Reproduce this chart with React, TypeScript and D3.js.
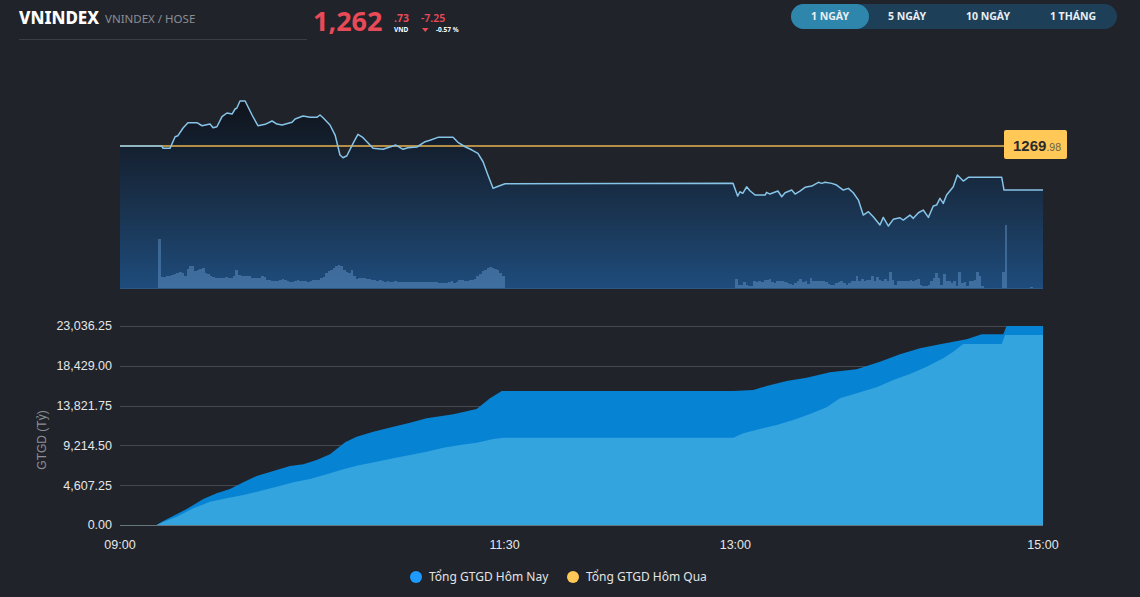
import * as d3 from "d3";
import { useEffect, useRef } from "react";

const WIDTH = 1140;
const HEIGHT = 597;

const SYMBOL = "VNINDEX";
const EXCHANGE = "VNINDEX / HOSE";
const REF_PRICE = 1269.98;
const LAST_PRICE = 1262.73;
const CHANGE = -7.25;
const CHANGE_PCT = -0.57;

const tabs = ["1 NGÀY", "5 NGÀY", "10 NGÀY", "1 THÁNG"];

// minutes since 09:00
const priceMinutes = [
  0, 16.3, 16.8, 19.5, 21.5, 22.6, 24.6, 26.5, 30.0, 32.0, 35.1, 36.3, 37.8, 39.8, 41.7, 43.7, 44.9, 45.6,
  46.8, 48.8, 51.5, 53.8, 56.6, 59.3, 61.2, 63.2, 67.1, 68.3, 71.4, 74.1, 76.8, 78.0, 79.2, 81.9, 83.9,
  85.8, 87.0, 88.5, 90.9, 92.8, 94.8, 97.5, 98.7, 102.6, 105.3, 107.6, 110.4, 112.3, 115.8, 119.0, 120.9,
  124.0, 129.9, 131.8, 134.6, 137.3, 139.6, 141.6, 143.5, 145.5, 147.0, 150.2, 239.1, 240.9, 241.8,
  242.9, 244.4, 245.7, 247.7, 251.6, 252.2, 253.5, 256.6, 258.1, 259.4, 262.0, 263.3, 265.2, 267.2,
  269.8, 272.4, 273.7, 275.0, 277.6, 279.5, 282.1, 284.1, 286.0, 288.0, 289.9, 291.9, 293.8, 296.4,
  297.7, 299.7, 301.6, 304.2, 305.5, 308.1, 309.4, 311.4, 313.3, 315.3, 317.2, 318.5, 319.8, 321.1,
  322.4, 325.0, 326.6, 328.9, 330.9, 343.9, 344.8, 360,
];
const priceValues = [
  1269.98, 1269.98, 1269.6, 1269.6, 1271.51, 1271.68, 1272.95, 1273.82, 1273.82, 1273.32, 1273.6,
  1272.99, 1273.16, 1274.81, 1275.42, 1275.25, 1276.08, 1276.24, 1277.39, 1277.39, 1275.09, 1273.32,
  1273.55, 1274.1, 1273.6, 1273.44, 1273.88, 1274.43, 1274.92, 1274.71, 1274.71, 1275.09, 1274.64,
  1273.44, 1271.79, 1268.5, 1268.05, 1268.38, 1270.42, 1271.91, 1271.35, 1270.14, 1269.6, 1269.44,
  1269.82, 1270.14, 1269.44, 1269.7, 1269.82, 1270.69, 1270.92, 1271.41, 1271.41, 1270.59, 1269.86,
  1269.32, 1268.78, 1267.39, 1265.2, 1263.01, 1263.27, 1263.77, 1263.83, 1261.74, 1262.45, 1262.19,
  1263.27, 1262.62, 1261.91, 1261.91, 1262.35, 1262.07, 1262.57, 1261.63, 1262.29, 1262.73, 1262.07,
  1262.57, 1263.18, 1263.39, 1264.0, 1263.83, 1264.0, 1263.83, 1263.55, 1262.73, 1263.01, 1262.29,
  1261.08, 1258.61, 1259.16, 1258.33, 1256.97, 1258.23, 1256.8, 1257.91, 1258.17, 1257.79, 1258.61,
  1258.07, 1258.99, 1259.44, 1258.23, 1260.1, 1260.26, 1261.36, 1260.54, 1261.91, 1263.27, 1265.2,
  1264.21, 1264.82, 1264.82, 1262.73, 1262.73,
];

// 1-minute volume bars (relative units)
const volMorningStart = 15;
const volMorning = [
  49, 11, 10.7, 11.7, 12.3, 13.3, 14, 15.3, 15.7, 15,
  12.3, 19, 22.3, 22.3, 16.7, 17.7, 19.3, 20, 15, 14,
  11.7, 10.7, 10.3, 10.3, 10, 10, 10.7, 10, 10, 11.7,
  17.7, 12.7, 11.7, 12.3, 12.3, 11.7, 10.3, 10.3, 10.3, 10,
  12.3, 11, 8.3, 7.7, 7.3, 7.3, 6.7, 8.3, 9, 8.3,
  6.7, 5.7, 6, 6.7, 7.7, 7, 7.3, 6.7, 6, 6.7,
  7.7, 8.3, 8.3, 10, 11, 15, 16.7, 18.3, 20, 21.7,
  22.7, 21.7, 18.3, 15.7, 15, 17.7, 11.7, 9, 10, 9.7,
  10.3, 9, 9.3, 8.3, 7.7, 7.3, 7.7, 6.7, 6.3, 6.7,
  6.3, 6.3, 6.7, 6, 5.7, 6.3, 5.7, 6.3, 5.7, 6,
  5.7, 6, 6, 6.3, 5.7, 6, 6.3, 6, 5.7, 5,
  5, 5, 5, 5.7, 6.7, 5, 5.7, 7.7, 7.7, 7.3,
  7.3, 7.7, 8.3, 9, 11.7, 14.3, 16.7, 18.3, 20, 21,
  20, 19, 18.3, 15, 11.7,
];
const volAfternoonStart = 240;
const volAfternoon = [
  9, 3, 3, 5.7, 3.3, 1.7, 1.7, 7.3, 6.3, 6.7,
  5.7, 7.7, 8.3, 9, 5.7, 5, 6.7, 7.3, 7.3, 6.3,
  5, 4.3, 3.3, 5, 6.7, 9, 6, 7.3, 4.3, 10, 6.7,
  6.7, 7.3, 7.3, 6.7, 5.7, 4.3, 3.3, 3.3, 5, 6,
  6.7, 5, 3.3, 5, 6.7, 7.3, 12.3, 6.7, 9, 7.3, 8.3,
  8.3, 12.3, 6.7, 11, 8.3, 6.7, 9, 6.7, 16, 8.3,
  3.3, 7.3, 7.3, 7.3, 7.3, 7.3, 8.3, 7.3, 8.3, 9,
  3.3, 1.7, 1.7, 3.3, 7.3, 10, 15, 10, 2.7, 14, 6.7,
  6.7, 5, 6.7, 2.3, 16, 5, 5.7, 2.3, 7.3, 7.3,
  8.3, 16, 11.7, 1.7, 0.4, 0.4, 0.4, 0.4, 0.4, 0.4,
  0.4, 16, 62.7, 0, 0, 0, 0, 0, 0, 0, 0, 0, 1,
];

// cumulative GTGD (tỷ đồng)
const gtgdTodayMinutes = [
  0, 14.3, 16.9, 26.0, 32.5, 37.7, 42.9, 48.1, 53.3, 58.5, 66.3, 71.5, 76.7, 81.9, 87.8, 92.3, 98.8,
  106.6, 113.1, 119.6, 130.0, 139.1, 144.3, 148.9, 239.2, 247.0, 252.2, 260.0, 267.8, 276.9, 287.3,
  296.4, 304.2, 312.0, 319.8, 330.2, 336.1, 344.5, 345.8, 360,
];
const gtgdTodayValues = [
  0, 0, 463, 1852, 3010, 3670, 4167, 4943, 5672, 6135, 6830, 7027, 7524, 8184, 9573, 10222, 10801,
  11379, 11842, 12352, 12815, 13428, 14667, 15512, 15512, 15628, 16091, 16669, 17051, 17677, 18024,
  18904, 19760, 20455, 20918, 21497, 22076, 22076, 23036.25, 23036.25,
];
const gtgdPrevMinutes = [
  0, 14.3, 15.6, 22.1, 28.6, 35.1, 41.6, 48.1, 54.6, 61.1, 67.6, 74.1, 80.6, 87.1, 93.6, 100.1, 106.6,
  113.1, 119.6, 126.1, 132.6, 139.1, 145.6, 149.5, 239.2, 243.1, 249.6, 256.1, 262.6, 269.1, 275.6,
  280.8, 287.3, 295.1, 301.6, 308.1, 314.6, 321.1, 325.0, 328.9, 343.9, 345.2, 360,
];
const gtgdPrevValues = [
  0, 0, 197, 961, 1933, 2697, 3091, 3473, 3936, 4434, 4943, 5325, 5869, 6448, 6946, 7328, 7721, 8103,
  8485, 8948, 9261, 9527, 9955, 10106, 10106, 10615, 11113, 11576, 12155, 12849, 13625, 14667, 15245,
  15940, 16785, 17480, 18325, 19297, 20061, 20953, 20953, 21994, 21994,
];

const gtgdTicks = [0, 4607.25, 9214.5, 13821.75, 18429, 23036.25];
const timeTicks = ["09:00", "11:30", "13:00", "15:00"];
const legendLabels = ["Tổng GTGD Hôm Nay", "Tổng GTGD Hôm Qua"];
const legendColors = ["#1e9bff", "#ffc857"];

const BG = "#20232a";
const RED = "#e84a58";
const HEAD_FONT = "'Noto Sans', 'Open Sans', sans-serif";
const AXIS_FONT = "'Liberation Sans', Arial, sans-serif";

export default function App() {
  const svgRef = useRef<SVGSVGElement>(null);

  useEffect(() => {
    if (!svgRef.current) return;
    const svg = d3.select(svgRef.current);
    svg.selectAll("*").remove();

    const parse = d3.timeParse("%H:%M");
    const t0 = parse("09:00")!;
    const at = (m: number) => new Date(t0.getTime() + m * 60000);

    // scales
    const x = d3.scaleTime().domain([t0, parse("15:00")!]).range([120, 1043]);
    const yPrice = d3.scaleLinear().domain([1246.6, 1277.56]).range([288, 100]);
    const yVol = d3.scaleLinear().domain([0, 62]).range([288, 226]);
    const yVal = d3.scaleLinear().domain([0, 23036.25]).range([525, 326]);

    svg.append("rect").attr("width", WIDTH).attr("height", HEIGHT).attr("fill", BG);

    // ---------- header ----------
    const head = svg.append("g").attr("font-family", HEAD_FONT);
    head.append("text").attr("x", 19).attr("y", 24).attr("fill", "#fff")
      .attr("font-size", 17).attr("font-weight", 800).text(SYMBOL);
    head.append("text").attr("x", 105).attr("y", 23).attr("fill", "#8b8e94")
      .attr("font-size", 11.5).text(EXCHANGE);
    head.append("line").attr("x1", 19).attr("x2", 307).attr("y1", 39.5).attr("y2", 39.5)
      .attr("stroke", "#3a3d44");

    const [intPart, decPart] = LAST_PRICE.toFixed(2).split(".");
    head.append("text").attr("x", 313).attr("y", 31).attr("fill", RED)
      .attr("font-size", 27).attr("font-weight", 700)
      .text(d3.format(",")(+intPart));
    head.append("text").attr("x", 394).attr("y", 22).attr("fill", RED)
      .attr("font-size", 10.5).attr("font-weight", 700).text("." + decPart);
    head.append("text").attr("x", 394).attr("y", 31.5).attr("fill", "#fff")
      .attr("font-size", 6.5).attr("font-weight", 700).text("VND");
    head.append("text").attr("x", 421).attr("y", 22).attr("fill", RED)
      .attr("font-size", 10.5).attr("font-weight", 600).text(CHANGE.toFixed(2));
    head.append("path").attr("d", "M422,28 L428.5,28 L425.25,32 Z").attr("fill", RED);
    head.append("text").attr("x", 436).attr("y", 31.5).attr("fill", "#fff")
      .attr("font-size", 6.5).attr("font-weight", 700).text(`${CHANGE_PCT.toFixed(2)} %`);

    // tabs
    const tabCenters = [830, 907, 988, 1073];
    head.append("rect").attr("x", 791).attr("y", 4).attr("width", 326).attr("height", 25)
      .attr("rx", 12.5).attr("fill", "#1e3f58");
    head.append("rect").attr("x", 791).attr("y", 4).attr("width", 78).attr("height", 25)
      .attr("rx", 12.5).attr("fill", "#2f86ad");
    head.selectAll("text.tab").data(tabs).join("text").attr("class", "tab")
      .attr("x", (d, i) => tabCenters[i])
      .attr("y", 20).attr("text-anchor", "middle").attr("fill", "#e9eef2")
      .attr("font-size", 10.5).attr("font-weight", 700).text((d) => d);

    // ---------- price chart ----------
    const defs = svg.append("defs");
    const grad = defs.append("linearGradient").attr("id", "priceFill")
      .attr("gradientUnits", "userSpaceOnUse")
      .attr("x1", 0).attr("x2", 0).attr("y1", 100).attr("y2", 288);
    grad.append("stop").attr("offset", 0).attr("stop-color", "#0f131a");
    grad.append("stop").attr("offset", 0.25).attr("stop-color", "#142030");
    grad.append("stop").attr("offset", 0.6).attr("stop-color", "#1a3451");
    grad.append("stop").attr("offset", 1).attr("stop-color", "#1e4c7c");

    const idx = d3.range(priceMinutes.length);
    const area = d3.area<number>()
      .x((i) => x(at(priceMinutes[i])))
      .y0(yPrice.range()[0])
      .y1((i) => yPrice(priceValues[i]));
    svg.append("path").datum(idx).attr("d", area).attr("fill", "url(#priceFill)");

    const bars = [
      ...volMorning.map((v, i) => ({ m: volMorningStart + i, v })),
      ...volAfternoon.map((v, i) => ({ m: volAfternoonStart + i, v })),
    ].filter((d) => d.v > 0);
    svg.append("g").attr("fill", "#6da0d4").attr("fill-opacity", 0.42)
      .attr("shape-rendering", "crispEdges")
      .selectAll("rect").data(bars).join("rect")
      .attr("x", (d) => x(at(d.m)))
      .attr("width", (d) => x(at(d.m + 1)) - x(at(d.m)))
      .attr("y", (d) => yVol(d.v))
      .attr("height", (d) => yVol(0) - yVol(d.v));

    svg.append("line").attr("x1", 120).attr("x2", 1043)
      .attr("y1", 288.5).attr("y2", 288.5).attr("stroke", "#2b5680");

    const refY = yPrice(REF_PRICE);
    svg.append("line").attr("x1", 120).attr("x2", 1004)
      .attr("y1", refY).attr("y2", refY)
      .attr("stroke", "#e7b54f").attr("stroke-width", 1.5);

    const line = d3.line<number>()
      .x((i) => x(at(priceMinutes[i])))
      .y((i) => yPrice(priceValues[i]));
    svg.append("path").datum(idx).attr("d", line).attr("fill", "none")
      .attr("stroke", "#86c4e8").attr("stroke-width", 1.5).attr("stroke-linejoin", "round");

    const [refInt, refDec] = REF_PRICE.toFixed(2).split(".");
    svg.append("rect").attr("x", 1004).attr("y", refY - 16).attr("width", 63).attr("height", 29)
      .attr("rx", 2).attr("fill", "#ffc857");
    const refText = svg.append("text").attr("x", 1013).attr("y", refY + 5)
      .attr("font-family", AXIS_FONT);
    refText.append("tspan").attr("font-size", 15).attr("font-weight", 700)
      .attr("fill", "#2a2a2a").text(refInt);
    refText.append("tspan").attr("font-size", 10.5).attr("fill", "#6a6048").text("." + refDec);

    // ---------- GTGD chart ----------
    const grid = svg.append("g").attr("font-family", AXIS_FONT);
    grid.selectAll("line").data(gtgdTicks.slice(1)).join("line")
      .attr("x1", 120).attr("x2", 1043)
      .attr("y1", (d) => Math.round(yVal(d)) + 0.5).attr("y2", (d) => Math.round(yVal(d)) + 0.5)
      .attr("stroke", "#45484f");

    const areaFor = (ms: number[], vs: number[]) =>
      d3.area<number>()
        .x((i) => x(at(ms[i])))
        .y0(yVal(0))
        .y1((i) => yVal(vs[i]))(d3.range(ms.length));
    svg.append("path").attr("d", areaFor(gtgdTodayMinutes, gtgdTodayValues)).attr("fill", "#0783d4");
    svg.append("path").attr("d", areaFor(gtgdPrevMinutes, gtgdPrevValues)).attr("fill", "#33a4de");

    svg.append("line").attr("x1", 120).attr("x2", 1043)
      .attr("y1", 525.5).attr("y2", 525.5).attr("stroke", "#66777d");

    grid.selectAll("text.ytick").data(gtgdTicks).join("text").attr("class", "ytick")
      .attr("x", 112).attr("y", (d) => yVal(d)).attr("dy", "0.35em")
      .attr("text-anchor", "end").attr("fill", "#e6e6e6").attr("font-size", 12.5)
      .text((d) => d3.format(",.2f")(d));

    grid.selectAll("text.xtick").data(timeTicks).join("text").attr("class", "xtick")
      .attr("x", (d) => x(parse(d)!)).attr("y", 549)
      .attr("text-anchor", "middle").attr("fill", "#e6e6e6").attr("font-size", 12.5)
      .text((d) => d);

    grid.append("text").attr("transform", "translate(46,440) rotate(-90)")
      .attr("text-anchor", "middle").attr("fill", "#8c8f95").attr("font-size", 12)
      .text("GTGD (Tỷ)");

    // legend
    const legendX = [416, 573];
    const legend = svg.append("g").attr("font-family", HEAD_FONT)
      .selectAll("g").data(legendLabels).join("g")
      .attr("transform", (d, i) => `translate(${legendX[i]},577)`);
    legend.append("circle").attr("r", 6).attr("fill", (d, i) => legendColors[i]);
    legend.append("text").attr("x", 13).attr("dy", "0.35em").attr("fill", "#e4e4e4")
      .attr("font-size", 12).text((d) => d);
  }, []);

  return (
    <div style={{ position: "fixed", left: 0, top: 0, width: WIDTH, height: HEIGHT, background: BG }}>
      <svg ref={svgRef} width={WIDTH} height={HEIGHT} style={{ display: "block" }} />
    </div>
  );
}
